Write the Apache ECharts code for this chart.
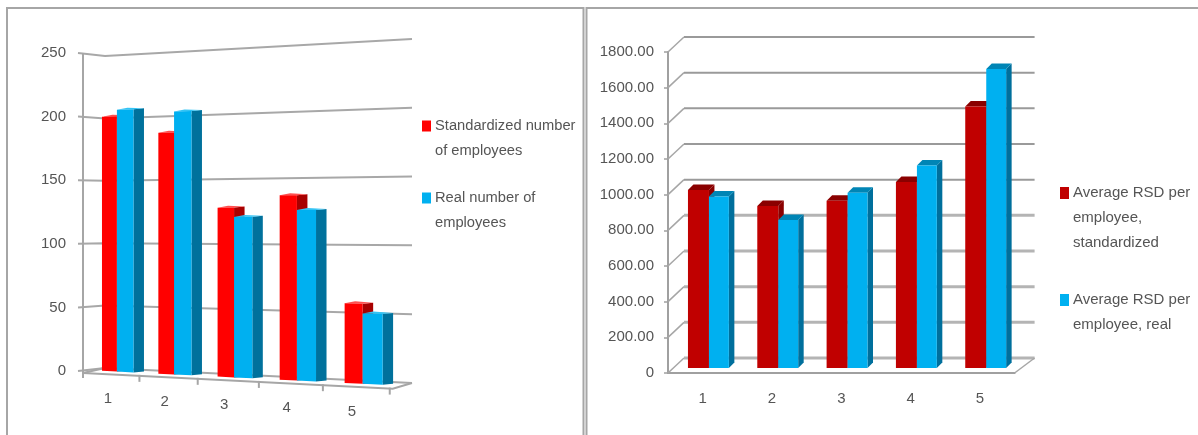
<!DOCTYPE html>
<html>
<head>
<meta charset="utf-8">
<style>html,body{margin:0;padding:0;background:#fff}#chart{width:1198px;height:435px}</style>
<script src="https://cdn.jsdelivr.net/npm/echarts@6/dist/echarts.min.js"></script>
</head>
<body>
<div id="chart"></div>
<script>
const categories = ['1', '2', '3', '4', '5'];

const employeeTicks = [0, 50, 100, 150, 200, 250];
const employeesStandardized = [200, 186, 128, 137, 58];
const employeesReal = [205, 202, 121, 126, 51];
const employeesStandardizedName = 'Standardized number\nof employees';
const employeesRealName = 'Real number of\nemployees';

const rsdTicks = [0, 200, 400, 600, 800, 1000, 1200, 1400, 1600, 1800];
const rsdStandardized = [998, 909, 938, 1043, 1466];
const rsdReal = [961, 830, 983, 1135, 1677];
const rsdStandardizedName = 'Average RSD per\nemployee,\nstandardized';
const rsdRealName = 'Average RSD per\nemployee, real';

const chart = echarts.init(document.getElementById('chart'));
const FONT = '"Liberation Sans", Arial, sans-serif';
const TEXT = '#555555';
const AXIS = '#a6a6a6';

/* ---- left panel: the plot is seen in perspective, so cartesian pixels are warped ---- */
const L = { left: 84, top: 53, width: 306, height: 318, band: 61.2 };
const fanCentre = 221.75;
const fanScale = x => 1 + 0.000334 * (x - 105);
const fan = (x, y) => fanCentre + (y - fanCentre) * fanScale(x);
const warpX = px => {
  const t = (px - L.left) / L.band;
  return L.left + 54 * t + 1.43 * t * t;
};
const wallY = y => 56 + (y - 53) * 0.981;
const floorY = x => fan(x, 374.1);

function poly(points, color) {
  return { type: 'polygon', shape: { points }, style: { fill: color }, silent: true };
}
function polyline(points, color, width) {
  return { type: 'polyline', shape: { points }, style: { stroke: color, lineWidth: width, fill: 'none' }, silent: true };
}

function leftWall(params, api) {
  const y = api.coord([0, api.value(0)])[1];
  const w = wallY(y);
  return polyline([[78, y], [105, fan(105, w)], [412, fan(412, w)]], '#a8a8a8', 2);
}

function leftFrame(params, api) {
  const children = [];
  const i = params.dataIndex;
  const c = api.coord([i, 0])[0];
  const tickX = warpX(c + L.band / 2);
  children.push(polyline([[tickX, floorY(tickX) - 1], [tickX, floorY(tickX) + 6]], AXIS, 2));
  const labelX = warpX(c - L.band / 2 + 0.44 * L.band);
  children.push({
    type: 'text', silent: true,
    style: {
      x: labelX, y: floorY(labelX) + 25, text: categories[i], align: 'center', verticalAlign: 'middle',
      font: '15px ' + FONT, fill: TEXT
    }
  });
  return { type: 'group', children };
}

function leftFloor() {
  const end = warpX(L.left + L.width) + 3;
  return {
    type: 'group',
    children: [
      polyline([[83, floorY(83)], [105, fan(105, wallY(L.top + L.height))]], AXIS, 2),
      polyline([[83, floorY(83)], [end, floorY(end)], [412, fan(412, wallY(L.top + L.height))]], AXIS, 2),
      polyline([[83, 53], [83, 378]], AXIS, 2)
    ]
  };
}

function leftBar(from, to, front, side, top) {
  return function (params, api) {
    const i = api.value(0);
    const c = api.coord([i, api.value(1)]);
    const x0 = warpX(c[0] - L.band / 2 + from * L.band);
    const x1 = warpX(c[0] - L.band / 2 + to * L.band);
    const dx = 10.5;
    const y = c[1];
    const base = api.coord([i, 0])[1];
    return {
      type: 'group',
      children: [
        poly([[x1, fan(x1, y)], [x1 + dx, fan(x1, y) - 1], [x1 + dx, fan(x1, base) - 1], [x1, fan(x1, base)]], side),
        poly([[x0, fan(x0, y)], [x0 + dx, fan(x0, y) - 2], [x1 + dx, fan(x1, y) - 1], [x1, fan(x1, y)]], top),
        poly([[x0, fan(x0, y)], [x1, fan(x1, y)], [x1, fan(x1, base)], [x0, fan(x0, base)]], front)
      ]
    };
  };
}

/* ---- right panel: oblique box with the back wall offset up and to the right ---- */
const wallDX = 16, wallDY = 15, barDepth = 5.5, barLift = 5;

function rightWall(params, api) {
  const v = api.value(0);
  const y = api.coord([0, v])[1];
  const g = params.coordSys;
  const heavy = v < 1000;
  const color = heavy ? '#b4b4b4' : '#9a9a9a';
  const lw = heavy ? 3 : 2;
  return {
    type: 'group',
    children: [
      polyline([[g.x, y], [g.x + wallDX, y - wallDY]], AXIS, 1.5),
      polyline([[g.x + wallDX, y - wallDY], [g.x + g.width + 20, y - wallDY]], color, lw),
      ...(v === 0 ? [polyline([[g.x + g.width, y], [g.x + g.width + 20, y - wallDY]], AXIS, 1.5)] : [])
    ]
  };
}

function rightBar(from, to, front, side, top) {
  return function (params, api) {
    const i = api.value(0);
    const c = api.coord([i, api.value(1)]);
    const band = api.size([1, 0])[0];
    const x0 = c[0] - band / 2 + from * band;
    const x1 = c[0] - band / 2 + to * band;
    const y = c[1] - barLift;
    const base = api.coord([i, 0])[1] - barLift;
    const d = barDepth;
    return {
      type: 'group',
      children: [
        poly([[x1, y], [x1 + d, y - d], [x1 + d, base - d], [x1, base]], side),
        poly([[x0, y], [x0 + d, y - d], [x1 + d, y - d], [x1, y]], top),
        poly([[x0, y], [x1, y], [x1, base], [x0, base]], front)
      ]
    };
  };
}

const pairs = (values) => values.map((v, i) => [i, v]);
const leadingBlanks = name => ' \n'.repeat(name.split('\n').length - 1) + name;
const custom = (xi, renderItem, data, extra) => Object.assign({
  type: 'custom', coordinateSystem: 'cartesian2d', xAxisIndex: xi, yAxisIndex: xi,
  renderItem, data, silent: true, clip: false, encode: { x: 0, y: 1 }
}, extra || {});

chart.setOption({
  animation: false,
  backgroundColor: '#ffffff',
  tooltip: { show: false },
  textStyle: { fontFamily: FONT },
  grid: [
    { left: L.left, top: L.top, width: L.width, height: L.height },
    { left: 668, top: 52, width: 346.6, height: 321 }
  ],
  xAxis: [
    { gridIndex: 0, type: 'category', data: categories, axisLine: { show: false }, axisTick: { show: false }, axisLabel: { show: false } },
    {
      gridIndex: 1, type: 'category', data: categories,
      axisLine: { lineStyle: { color: '#a0a0a0', width: 2 } },
      axisTick: { length: 5, lineStyle: { color: '#a0a0a0', width: 2 } },
      axisLabel: { color: TEXT, fontSize: 15, margin: 18 }
    }
  ],
  yAxis: [
    {
      gridIndex: 0, type: 'value', min: 0, max: 250, interval: 50,
      axisLine: { show: false }, axisTick: { show: false }, splitLine: { show: false },
      axisLabel: { color: TEXT, fontSize: 15, margin: 18 }
    },
    {
      gridIndex: 1, type: 'value', min: 0, max: 1800, interval: 200,
      axisLine: { show: true, lineStyle: { color: '#a0a0a0', width: 2 } },
      axisTick: { show: true, length: 4, lineStyle: { color: '#a0a0a0', width: 1.5 } },
      splitLine: { show: false },
      axisLabel: { color: TEXT, fontSize: 15, margin: 14, formatter: v => v === 0 ? '0' : v.toFixed(2) }
    }
  ],
  legend: [
    {
      data: [employeesStandardizedName, employeesRealName], left: 422, top: 88.5, orient: 'vertical',
      icon: 'rect', itemWidth: 9, itemHeight: 11, itemGap: -3, padding: 0, selectedMode: false,
      formatter: leadingBlanks,
      textStyle: { color: TEXT, fontSize: 14.7, lineHeight: 25, padding: [0, 0, 0, -1] }
    },
    {
      data: [rsdStandardizedName, rsdRealName], left: 1060, top: 130.5, orient: 'vertical',
      icon: 'rect', itemWidth: 9, itemHeight: 12, itemGap: 7, padding: 0, selectedMode: false,
      formatter: leadingBlanks,
      textStyle: { color: TEXT, fontSize: 15, lineHeight: 25, padding: [0, 0, 0, -1] }
    }
  ],
  series: [
    custom(0, leftWall, employeeTicks.map(v => [v]), { encode: { y: 0 } }),
    custom(0, leftFloor, [[0, 0]]),
    custom(0, leftFrame, pairs(categories.map(() => 0))),
    custom(0, leftBar(0.33, 0.60, '#ff0000', '#a80000', '#ff5050'), pairs(employeesStandardized),
      { name: employeesStandardizedName, itemStyle: { color: '#ff0000' } }),
    custom(0, leftBar(0.60, 0.895, '#00b0f0', '#00719c', '#33c4f5'), pairs(employeesReal),
      { name: employeesRealName, itemStyle: { color: '#00b0f0' } }),

    custom(1, rightWall, rsdTicks.map(v => [v]), { encode: { y: 0 } }),
    custom(1, rightBar(0.288, 0.591, '#c00000', '#8a0000', '#8a0000'), pairs(rsdStandardized),
      { name: rsdStandardizedName, itemStyle: { color: '#c00000' } }),
    custom(1, rightBar(0.591, 0.878, '#00b0f0', '#006f9c', '#0085b5'), pairs(rsdReal),
      { name: rsdRealName, itemStyle: { color: '#00b0f0' } })
  ],
  graphic: [
    { type: 'polyline', silent: true, shape: { points: [[7, 435], [7, 8], [583.5, 8], [583.5, 435]] }, style: { stroke: '#a6a6a6', lineWidth: 2, fill: 'none' } },
    { type: 'polyline', silent: true, shape: { points: [[586.5, 435], [586.5, 8], [1198, 8]] }, style: { stroke: '#a6a6a6', lineWidth: 2, fill: 'none' } }
  ]
});
</script>
</body>
</html>
